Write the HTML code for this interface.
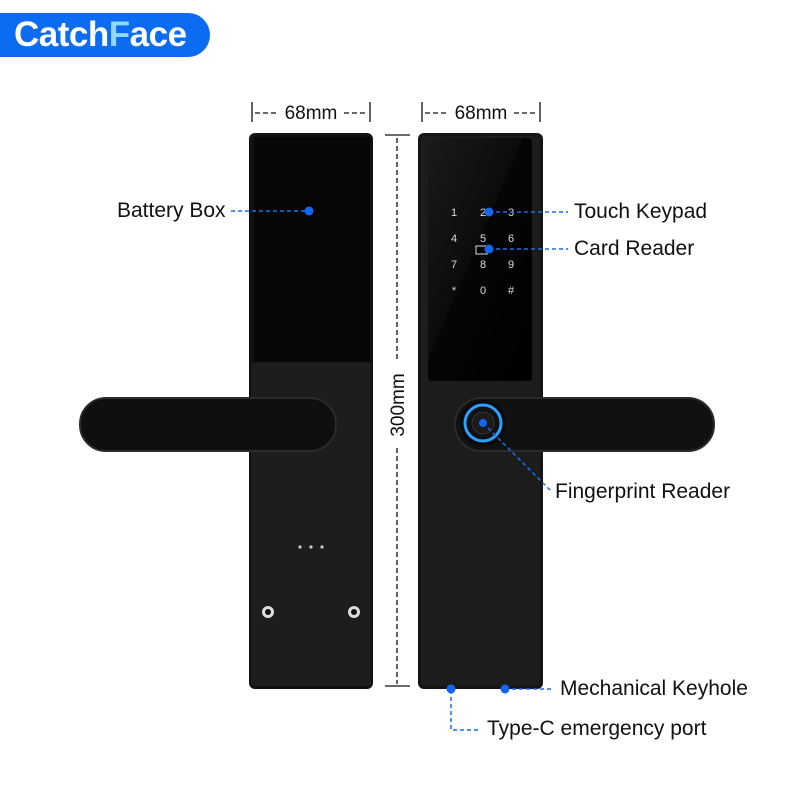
<!DOCTYPE html>
<html><head><meta charset="utf-8"><style>
body{margin:0;width:800px;height:800px;background:#fff;overflow:hidden;position:relative;font-family:"Liberation Sans","DejaVu Sans",sans-serif}
.lbl{position:absolute;font-size:21px;color:#111;white-space:nowrap;line-height:1}
</style></head><body>
<div style="position:absolute;left:0;top:13px;width:210px;height:44px;background:#0b6cf2;border-radius:0 22px 22px 0"></div>
<div style="position:absolute;left:14px;top:15px;font-size:35px;font-weight:bold;color:#fff;line-height:40px;letter-spacing:-0.5px">Catch<span style="color:#8fd8ff">F</span>ace</div>

<svg width="800" height="800" style="position:absolute;left:0;top:0">
<defs>
<linearGradient id="scr" x1="0" y1="0" x2="1" y2="1"><stop offset="0" stop-color="#1a1a1a"/><stop offset="0.45" stop-color="#0c0c0c"/><stop offset="0.46" stop-color="#050505"/><stop offset="1" stop-color="#000"/></linearGradient>
</defs>
<rect x="249" y="133" width="124" height="556" rx="6" fill="#111"/>
<rect x="251" y="362" width="120" height="324" rx="3" fill="#1d1d1d"/>
<rect x="254" y="137" width="116" height="225" fill="#060606"/>
<rect x="80" y="398" width="256" height="53" rx="26" fill="#0f0f0f" stroke="#2b2b2b" stroke-width="2"/>
<circle cx="300" cy="547" r="1.6" fill="#ccc"/><circle cx="311" cy="547" r="1.6" fill="#ccc"/><circle cx="322" cy="547" r="1.6" fill="#ccc"/>
<circle cx="268" cy="612" r="6" fill="#ddd"/><circle cx="268" cy="612" r="3" fill="#111"/>
<circle cx="354" cy="612" r="6" fill="#ddd"/><circle cx="354" cy="612" r="3" fill="#111"/>
<rect x="418" y="133" width="125" height="556" rx="6" fill="#141414"/>
<rect x="421" y="136" width="119" height="550" rx="4" fill="#1c1c1c"/>
<rect x="428" y="138" width="104" height="243" rx="3" fill="url(#scr)"/>
<rect x="455" y="398" width="259" height="53" rx="26" fill="#111" stroke="#2b2b2b" stroke-width="2"/>
<circle cx="483" cy="423" r="23" fill="#0a0a0a"/>
<circle cx="483" cy="423" r="18" fill="#111" stroke="#2ea0ff" stroke-width="3"/>
<circle cx="483" cy="423" r="11" fill="#1b1b1b" stroke="#333"/>
<g fill="#ddd" font-size="11" font-family="Liberation Sans" text-anchor="middle">
<text x="454" y="216">1</text><text x="483" y="216">2</text><text x="511" y="216">3</text>
<text x="454" y="242">4</text><text x="483" y="242">5</text><text x="511" y="242">6</text>
<text x="454" y="268">7</text><text x="483" y="268">8</text><text x="511" y="268">9</text>
<text x="454" y="294">*</text><text x="483" y="294">0</text><text x="511" y="294">#</text>
</g>
<rect x="476" y="246" width="11" height="8" fill="none" stroke="#ddd" stroke-width="1"/>
<g stroke="#111" stroke-width="1.3">
<line x1="252" y1="102" x2="252" y2="122"/><line x1="370" y1="102" x2="370" y2="122"/>
<line x1="422" y1="102" x2="422" y2="122"/><line x1="540" y1="102" x2="540" y2="122"/>
<line x1="255" y1="113" x2="278" y2="113" stroke-dasharray="5,3"/><line x1="344" y1="113" x2="368" y2="113" stroke-dasharray="5,3"/>
<line x1="425" y1="113" x2="448" y2="113" stroke-dasharray="5,3"/><line x1="514" y1="113" x2="538" y2="113" stroke-dasharray="5,3"/>
<line x1="385" y1="135" x2="410" y2="135"/><line x1="385" y1="686" x2="410" y2="686"/>
<line x1="397" y1="138" x2="397" y2="362" stroke-dasharray="5,3"/><line x1="397" y1="448" x2="397" y2="684" stroke-dasharray="5,3"/>
</g>
<text x="311" y="119" font-size="19" text-anchor="middle" fill="#111" font-family="Liberation Sans">68mm</text>
<text x="481" y="119" font-size="19" text-anchor="middle" fill="#111" font-family="Liberation Sans">68mm</text>
<text transform="translate(404,405) rotate(-90)" font-size="19" text-anchor="middle" fill="#111" font-family="Liberation Sans">300mm</text>
<g stroke="#1a6fe8" stroke-width="1.5" stroke-dasharray="4,3" fill="none">
<line x1="231" y1="211" x2="309" y2="211"/>
<line x1="489" y1="212" x2="568" y2="212"/>
<line x1="489" y1="249" x2="568" y2="249"/>
<line x1="483" y1="423" x2="550" y2="490"/>
<line x1="505" y1="689" x2="553" y2="689"/>
<polyline points="451,690 451,730 480,730"/>
</g>
<g fill="#1266f0">
<circle cx="309" cy="211" r="4.5"/><circle cx="489" cy="212" r="4.5"/><circle cx="489" cy="249" r="4.5"/>
<circle cx="483" cy="423" r="4"/><circle cx="451" cy="689" r="4.5"/><circle cx="505" cy="689" r="4.5"/>
</g>
</svg>
<div class="lbl" style="left:117px;top:200px">Battery Box</div>
<div class="lbl" style="left:574px;top:201px">Touch Keypad</div>
<div class="lbl" style="left:574px;top:238px">Card Reader</div>
<div class="lbl" style="left:555px;top:481px">Fingerprint Reader</div>
<div class="lbl" style="left:560px;top:678px">Mechanical Keyhole</div>
<div class="lbl" style="left:487px;top:718px">Type-C emergency port</div>
</body></html>
